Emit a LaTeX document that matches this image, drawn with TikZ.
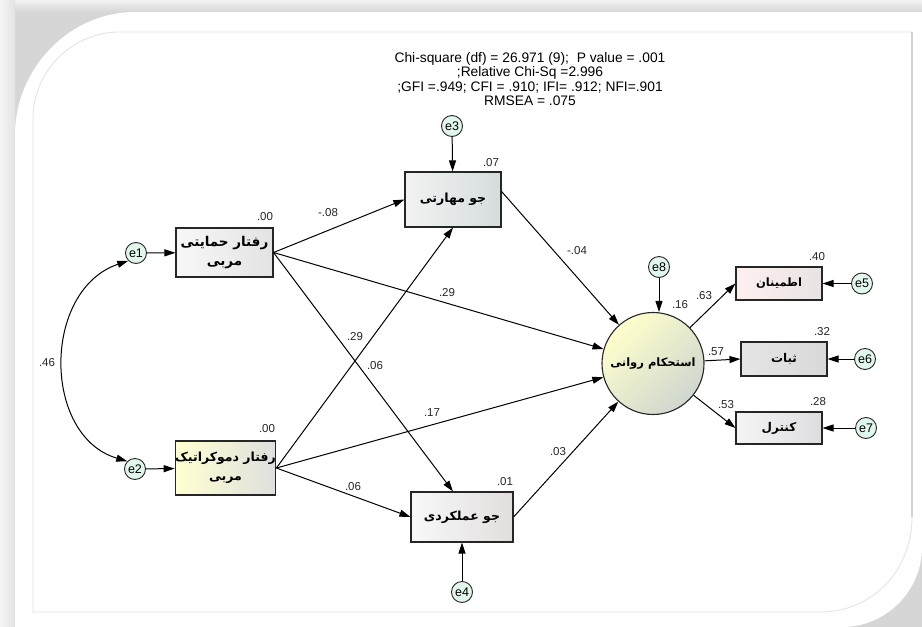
\documentclass[tikz,border=0pt]{standalone}
\usepackage{fontspec}
\setmainfont{Liberation Sans}
\newfontfamily\arabicfont[Script=Arabic]{DejaVu Sans}
\TeXXeTstate=1
\usetikzlibrary{shapes.geometric,arrows.meta}
\definecolor{errfill}{HTML}{E2F7EC}
\definecolor{framegray}{HTML}{D6D6D6}
\definecolor{linegray}{HTML}{E2E2E2}
\newcommand{\fa}[1]{{\arabicfont\bfseries\beginR #1\endR}}
\tikzset{
  obs/.style={rectangle, draw=black!85, line width=1.1pt, inner sep=0pt, align=center,
    font=\fontsize{12.5}{19}\selectfont},
  err/.style={ellipse, draw=black!85, line width=0.9pt, fill=errfill, minimum width=21pt,
    minimum height=21pt, inner sep=0pt, font=\fontsize{12.5}{12.5}\selectfont},
  conn/.style={line width=1pt, -{Triangle[length=11pt,width=7pt]}},
  biconn/.style={line width=1pt, {Triangle[length=11pt,width=7pt]}-{Triangle[length=11pt,width=7pt]}},
  lbl/.style={font=\fontsize{11.5}{11.5}\selectfont, text=black!85, inner sep=0pt},
}
\begin{document}
\begin{tikzpicture}[x=1pt,y=-1pt]
% frame
\useasboundingbox (0,0) rectangle (922,627);
\fill[framegray] (0,0) rectangle (922,627);
\shade[left color=gray!8, right color=gray!22] (0,0) rectangle (15,627);
\shade[top color=gray!10, bottom color=framegray] (15,0) rectangle (922,12);
\fill[white] (15,627) -- (15,135) .. controls (15,69) and (69,12) .. (135,12) -- (922,12)
  -- (922,547) .. controls (922,591) and (886,627) .. (842,627) -- cycle;
\draw[linegray, line width=0.8pt] (33,612) -- (33,119) .. controls (33,71) and (72,32) .. (120,32)
  -- (912,32) -- (912,517) .. controls (912,570) and (873,612) .. (820,612) -- cycle;
\draw[gray!35, line width=1.5pt] (912,32) -- (912,517);

% title
\node[align=center, font=\fontsize{13.8}{14.4}\selectfont, inner sep=0pt] (title) at (530,79)
  {Chi-square (df) = 26.971 (9); \ P value = .001\\;Relative Chi-Sq =2.996\\;GFI =.949; CFI = .910; IFI= .912; NFI=.901\\RMSEA = .075};

% observed / latent nodes
\node[obs, minimum width=97pt, minimum height=49pt, left color=gray!6, right color=gray!22,
  font=\fontsize{13.5}{19}\selectfont] (b1) at (224.5,252.5)
  {\fa{رفتار حمایتی}\\\fa{مربی}};
\node[obs, minimum width=99pt, minimum height=54pt, left color=yellow!18!white, right color=gray!25] (b2) at (225.5,468)
  {\fa{رفتار دموکراتیک}\\\fa{مربی}};
\node[obs, minimum width=96pt, minimum height=55pt, left color=cyan!6!gray!10, right color=cyan!8!gray!30] (b3) at (453,199.5)
  {\fa{جو مهارتی}};
\node[obs, minimum width=102pt, minimum height=50pt, left color=gray!5, right color=red!6!gray!25] (b4) at (462,517)
  {\fa{جو عملکردی}};
\node[obs, minimum width=86pt, minimum height=33pt, left color=red!6!white, right color=red!8!gray!20,
  font=\fontsize{11.5}{14}\selectfont] (b5) at (779,283.5)
  {\fa{اطمینان}};
\node[obs, minimum width=86pt, minimum height=34pt, left color=gray!20, right color=gray!30,
  font=\fontsize{12}{14}\selectfont] (b6) at (784,359)
  {\fa{ثبات}};
\node[obs, minimum width=86pt, minimum height=32pt, left color=blue!3!gray!8, right color=blue!5!gray!25,
  font=\fontsize{12}{14}\selectfont] (b7) at (779,428)
  {\fa{کنترل}};
\node[circle, draw=black!85, line width=1.1pt, minimum size=102pt, inner sep=0pt,
  shading=axis, left color=yellow!20!white, right color=green!8!gray!35, shading angle=45,
  font=\fontsize{11.5}{14}\selectfont] (circ) at (653,363.5) {\fa{استحکام روانی}};

% error terms
\node[err] (e1) at (136,253) {e1};
\node[err] (e2) at (135,469) {e2};
\node[err] (e3) at (452,126) {e3};
\node[err] (e4) at (462,592) {e4};
\node[err] (e5) at (862,283.5) {e5};
\node[err] (e6) at (865,359) {e6};
\node[err] (e7) at (866,428) {e7};
\node[err] (e8) at (659,267) {e8};

% squared multiple correlations
\node[lbl] (r1) at (265,217) {.00};
\node[lbl] (r2) at (267,429) {.00};
\node[lbl] (r3) at (491,163) {.07};
\node[lbl] (r4) at (505,482) {.01};
\node[lbl] (r8) at (680,305) {.16};
\node[lbl] (r5) at (817,257) {.40};
\node[lbl] (r6) at (822,332) {.32};
\node[lbl] (r7) at (818,402) {.28};

% connectors
\draw[conn] (e1) -- (b1);
\draw[conn] (e2) -- (b2);
\draw[conn] (e3) -- (b3);
\draw[conn] (e4) -- (b4);
\draw[conn] (e8) -- (circ.north -| e8);
\draw[conn] (e5) -- (b5);
\draw[conn] (e6) -- (b6);
\draw[conn] (e7) -- (b7);
\draw[biconn] (e1.south west) .. controls (42,290) and (42,436) .. (e2.north west);

\draw[conn] (b1.east) -- (b3.west);
\draw[conn] (b1.east) -- (circ);
\draw[conn] (b1.east) -- ([xshift=-9pt]b4.north);
\draw[conn] (b2.east) -- (b3.south);
\draw[conn] (b2.east) -- (circ);
\draw[conn] (b2.east) -- (b4.west);
\draw[conn] ([yshift=-20pt]b3.north east) -- (circ);
\draw[conn] (b4.east) -- (circ);
\draw[conn] (circ) -- (b5.west);
\draw[conn] (circ) -- (b6.west);
\draw[conn] (circ) -- (b7.west);

% path coefficients
\node[lbl] (c46) at (47,363) {.46};
\node[lbl] (c13) at (328,213) {-.08};
\node[lbl] (c1c) at (447,293) {.29};
\node[lbl] (c23) at (355,337) {.29};
\node[lbl] (c14) at (375,366) {.06};
\node[lbl] (c2c) at (432,413) {.17};
\node[lbl] (c24) at (353,487) {.06};
\node[lbl] (c4c) at (558,452) {.03};
\node[lbl] (c3c) at (577,251) {-.04};
\node[lbl] (c5) at (704,296) {.63};
\node[lbl] (c6) at (716,352) {.57};
\node[lbl] (c7) at (726,405) {.53};
\end{tikzpicture}
\end{document}
